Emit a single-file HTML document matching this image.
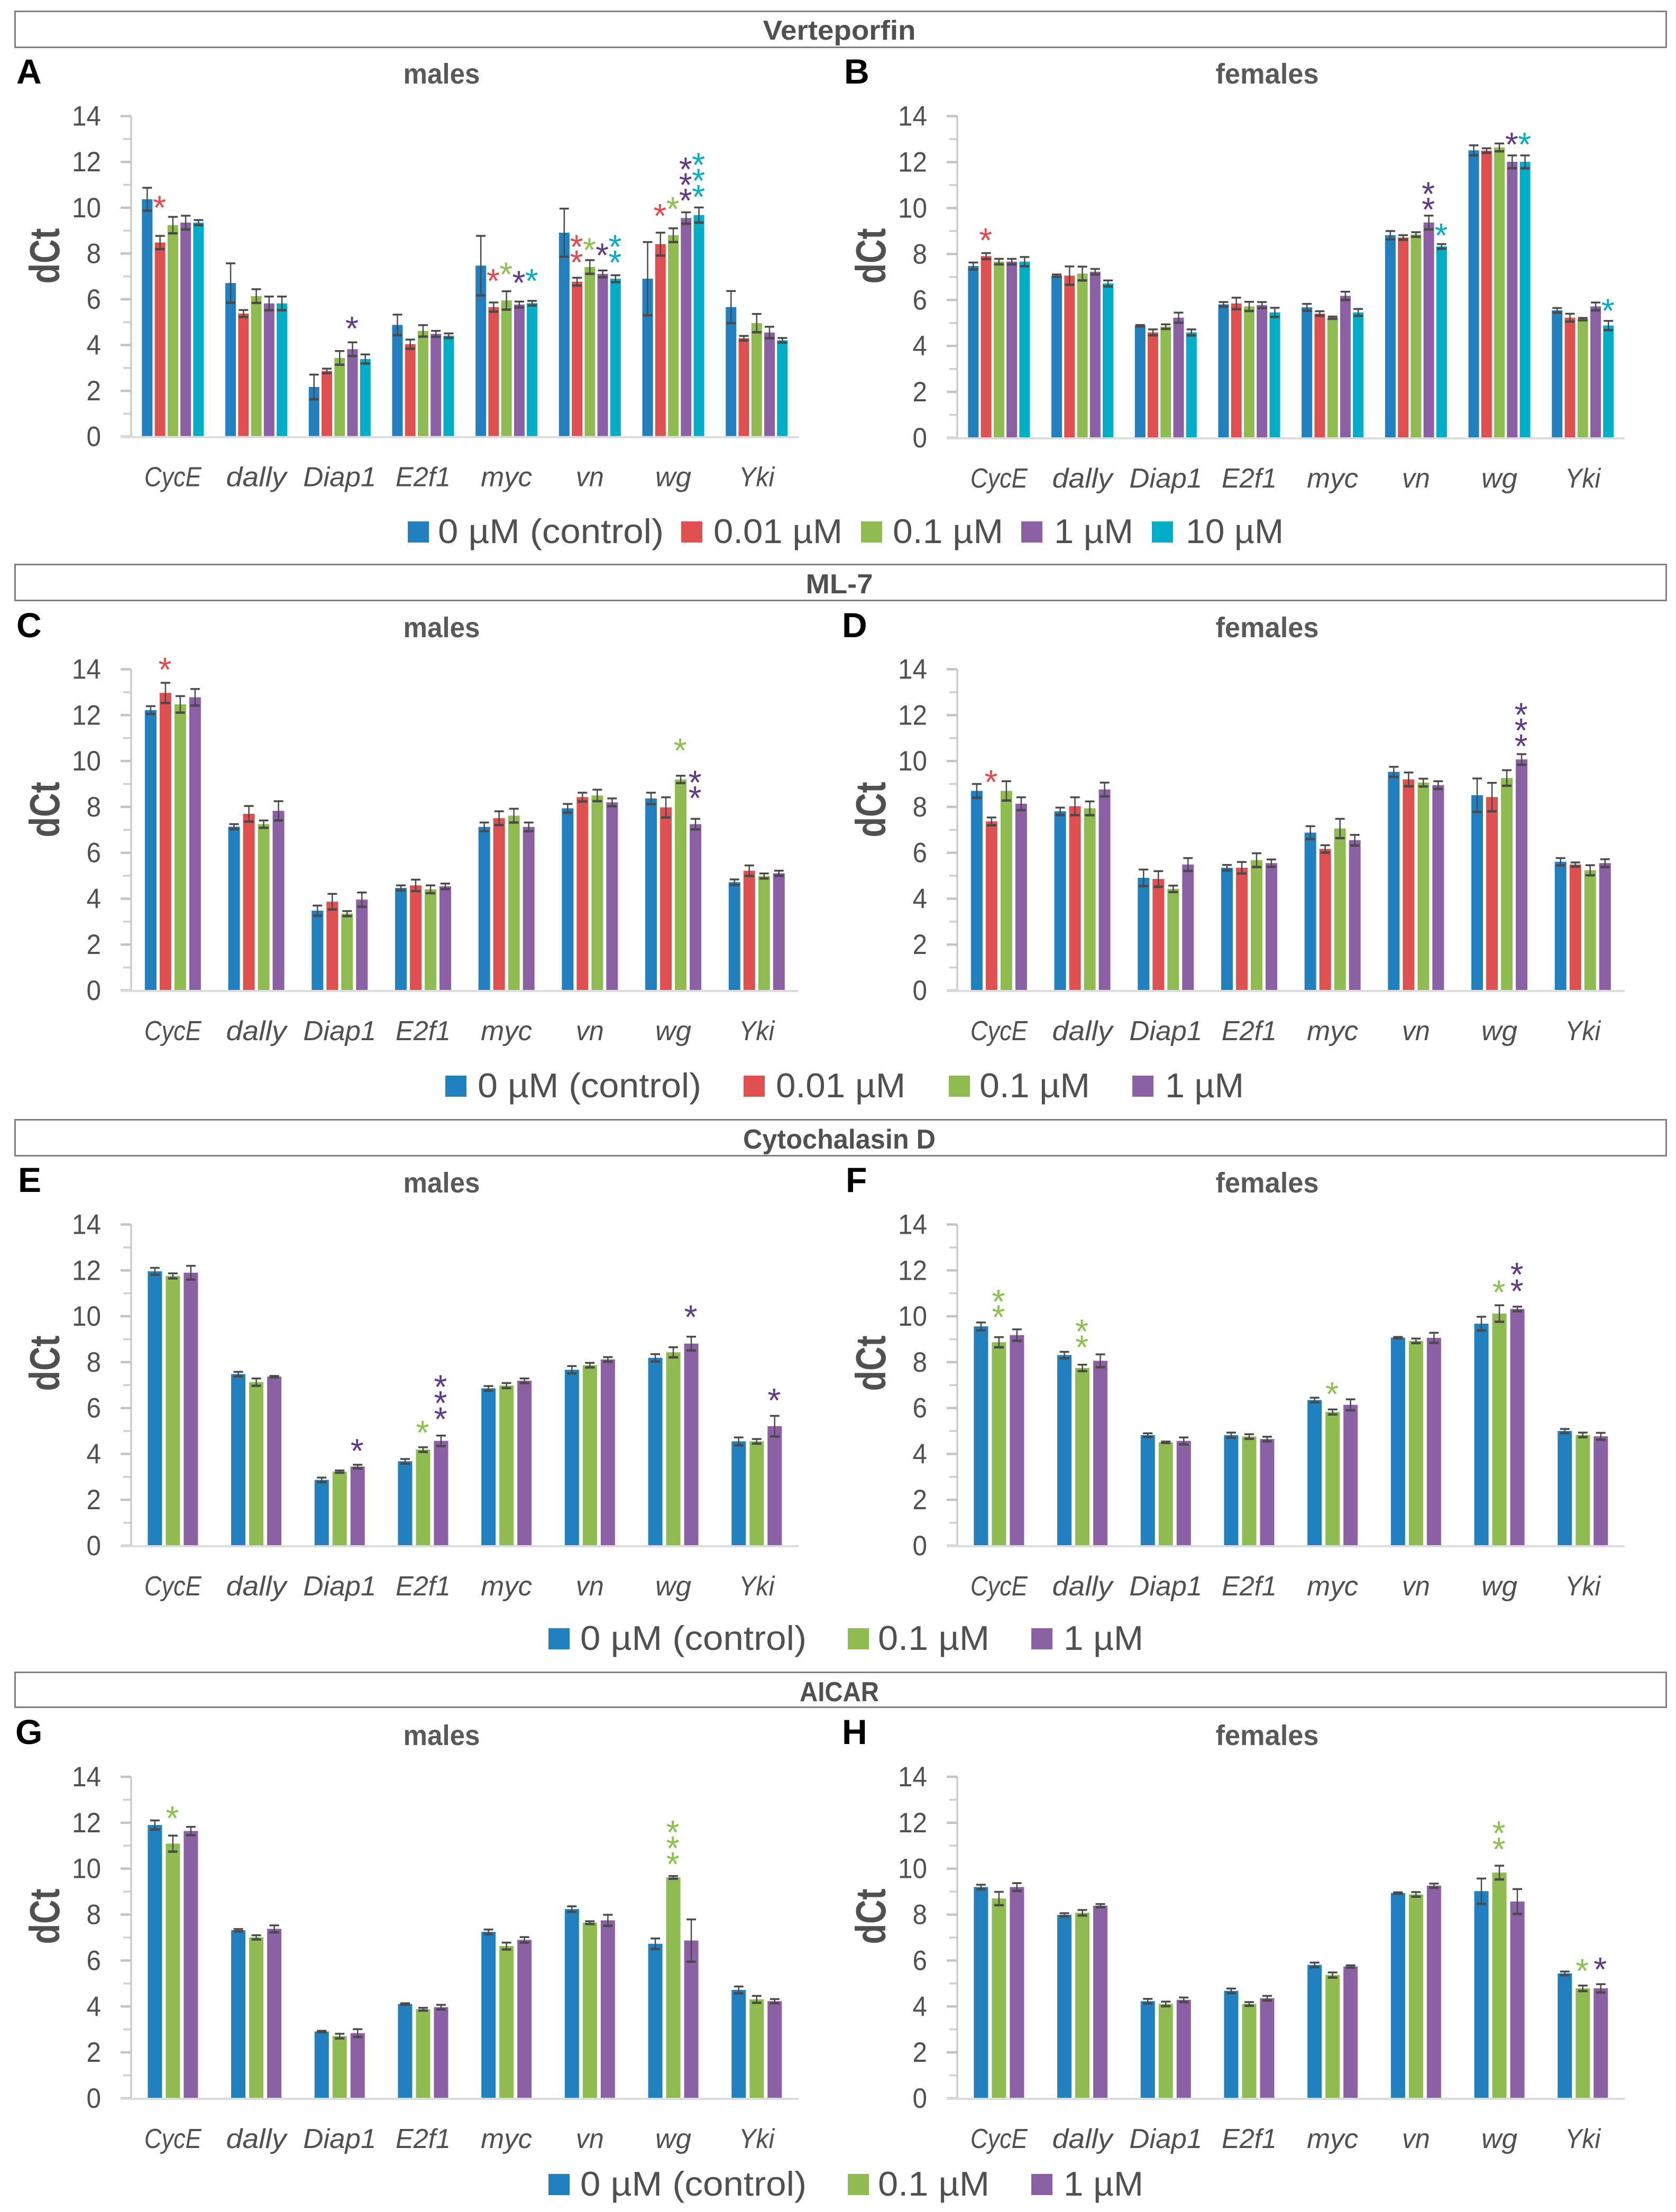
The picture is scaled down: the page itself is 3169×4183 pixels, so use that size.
<!DOCTYPE html>
<html lang="en">
<head>
<meta charset="utf-8">
<title>dCt gene expression by treatment</title>
<style>
html,body{margin:0;padding:0;background:#fff;}
svg{display:block;}
text{font-family:"Liberation Sans",sans-serif;}
</style>
</head>
<body>
<svg id="figure" xmlns="http://www.w3.org/2000/svg" width="3169" height="4183" viewBox="0 0 3169 4183"></svg>
<script>
// ---------- chart data ----------
const categories = ['CycE','dally','Diap1','E2f1','myc','vn','wg','Yki'];
const tickLabels = [0,2,4,6,8,10,12,14];
const minorTicks = [1,3,5,7,9,11,13];

const seriesFive = ['0 µM (control)','0.01 µM','0.1 µM','1 µM','10 µM'];
const seriesFour = ['0 µM (control)','0.01 µM','0.1 µM','1 µM'];
const seriesThree = ['0 µM (control)','0.1 µM','1 µM'];

const valuesA = [
 [10.37,6.71,2.17,4.88,7.47,8.91,6.90,5.66],
 [8.48,5.38,2.87,4.04,5.66,6.77,8.41,4.30],
 [9.24,6.14,3.44,4.62,5.95,7.41,8.80,4.96],
 [9.35,5.82,3.82,4.49,5.77,7.11,9.55,4.55],
 [9.35,5.82,3.39,4.41,5.83,6.90,9.68,4.21]];
const errorsA = [
 [0.50,0.86,0.54,0.45,1.30,1.05,1.60,0.70],
 [0.29,0.15,0.10,0.20,0.20,0.17,0.50,0.10],
 [0.36,0.30,0.30,0.25,0.40,0.30,0.30,0.40],
 [0.30,0.30,0.30,0.13,0.13,0.15,0.25,0.25],
 [0.11,0.30,0.20,0.10,0.10,0.15,0.33,0.10]];
const starsA = [[0,1,10.28],[2,3,5.0],[4,1,7.08],[4,2,7.37],[4,3,7.0],[4,4,7.08],
 [5,1,8.57],[5,1,7.89],[5,2,8.44],[5,3,8.2],[5,4,8.57],[5,4,7.89],
 [6,1,9.93],[6,2,10.23],[6,3,10.6],[6,3,11.28],[6,3,11.96],[6,4,10.76],[6,4,11.46],[6,4,12.16]];

const valuesB = [
 [7.48,7.06,4.88,5.81,5.68,8.82,12.51,5.55],
 [7.91,7.06,4.59,5.85,5.41,8.72,12.50,5.23],
 [7.67,7.15,4.84,5.72,5.23,8.85,12.64,5.17],
 [7.67,7.23,5.23,5.78,6.18,9.37,12.01,5.72],
 [7.67,6.72,4.59,5.46,5.46,8.33,12.01,4.89]];
const errorsB = [
 [0.15,0.05,0.03,0.10,0.15,0.18,0.22,0.10],
 [0.13,0.40,0.13,0.25,0.10,0.10,0.10,0.17],
 [0.12,0.30,0.10,0.20,0.05,0.10,0.17,0.05],
 [0.12,0.12,0.22,0.13,0.18,0.30,0.28,0.17],
 [0.20,0.13,0.13,0.20,0.15,0.10,0.28,0.20]];
const starsB = [[0,1,8.88],[5,3,10.9],[5,3,10.22],[5,4,9.09],[6,3,13.05],[6,4,13.05],[7,4,5.81]];

const valuesC = [
 [12.22,7.14,3.48,4.47,7.13,7.94,8.37,4.72],
 [12.97,7.70,3.87,4.58,7.51,8.43,7.98,5.22],
 [12.47,7.25,3.35,4.41,7.62,8.50,9.20,4.99],
 [12.78,7.83,3.96,4.54,7.13,8.20,7.25,5.11]];
const errorsC = [
 [0.17,0.11,0.22,0.11,0.19,0.19,0.25,0.12],
 [0.44,0.34,0.34,0.25,0.30,0.19,0.44,0.23],
 [0.36,0.16,0.11,0.17,0.30,0.25,0.16,0.11],
 [0.36,0.42,0.31,0.12,0.19,0.17,0.23,0.11]];
const starsC = [[0,1,14.27],[6,2,10.74],[6,3,9.35],[6,3,8.67]];

const valuesD = [
 [8.70,7.81,4.91,5.35,6.88,9.53,8.51,5.61],
 [7.37,8.03,4.86,5.35,6.17,9.20,8.43,5.49],
 [8.70,7.94,4.43,5.68,7.06,9.06,9.26,5.24],
 [8.14,8.76,5.49,5.55,6.55,8.95,10.07,5.55]];
const errorsD = [
 [0.30,0.16,0.36,0.12,0.28,0.22,0.73,0.16],
 [0.17,0.39,0.34,0.25,0.16,0.30,0.62,0.09],
 [0.42,0.30,0.14,0.30,0.42,0.17,0.34,0.22],
 [0.28,0.30,0.28,0.16,0.23,0.17,0.23,0.17]];
const starsD = [[0,1,9.37],[6,3,10.93],[6,3,11.62],[6,3,12.3]];

const valuesE = [
 [11.96,7.48,2.87,3.68,6.86,7.67,8.19,4.55],
 [11.76,7.13,3.23,4.19,6.98,7.87,8.43,4.55],
 [11.90,7.37,3.45,4.57,7.19,8.12,8.81,5.21]];
const errorsE = [
 [0.15,0.10,0.10,0.10,0.10,0.16,0.16,0.17],
 [0.11,0.16,0.05,0.10,0.11,0.10,0.22,0.10],
 [0.30,0.03,0.08,0.23,0.10,0.10,0.30,0.45]];
const starsE = [[2,2,4.41],[3,1,5.21],[3,2,5.8],[3,2,6.5],[3,2,7.2],[6,2,10.24],[7,2,6.61]];

const valuesF = [
 [9.56,8.31,4.82,4.82,6.35,9.07,9.68,5.00],
 [8.87,7.75,4.51,4.76,5.83,8.93,10.12,4.83],
 [9.18,8.06,4.57,4.65,6.14,9.06,10.32,4.77]];
const errorsF = [
 [0.17,0.14,0.08,0.11,0.10,0.03,0.30,0.09],
 [0.22,0.14,0.03,0.10,0.11,0.10,0.36,0.10],
 [0.25,0.28,0.15,0.10,0.24,0.22,0.10,0.15]];
const starsF = [[0,1,10.93],[0,1,10.24],[1,1,9.62],[1,1,8.93],[4,1,6.89],[6,1,11.33],[6,2,12.1],[6,2,11.38]];

const valuesG = [
 [11.90,7.32,2.91,4.11,7.25,8.24,6.73,4.72],
 [11.09,7.01,2.71,3.88,6.63,7.65,9.62,4.31],
 [11.64,7.38,2.84,3.97,6.90,7.75,6.87,4.23]];
const errorsG = [
 [0.20,0.05,0.03,0.03,0.10,0.12,0.23,0.15],
 [0.35,0.09,0.10,0.06,0.15,0.06,0.06,0.15],
 [0.18,0.15,0.17,0.10,0.12,0.24,0.92,0.09]];
const starsG = [[0,1,12.48],[6,1,11.86],[6,1,11.17],[6,1,10.48]];

const valuesH = [
 [9.20,7.99,4.23,4.68,5.81,8.94,9.02,5.44],
 [8.70,8.08,4.11,4.11,5.37,8.88,9.83,4.79],
 [9.20,8.39,4.29,4.36,5.74,9.26,8.57,4.79]];
const errorsH = [
 [0.10,0.07,0.10,0.10,0.10,0.03,0.55,0.08],
 [0.29,0.12,0.10,0.08,0.11,0.10,0.30,0.12],
 [0.17,0.07,0.10,0.10,0.05,0.09,0.54,0.18]];
const starsH = [[6,1,11.82],[6,1,11.12],[7,1,5.83],[7,2,5.89]];

// ---------- layout and style (not data) ----------
const colorFor = {'0 µM (control)':'#2080c0','0.01 µM':'#e05050','0.1 µM':'#8fbc50','1 µM':'#8c60a4','10 µM':'#00aec8'};
const starColorFor = {'0.01 µM':'#e8474c','0.1 µM':'#8cc04f','1 µM':'#5e3a87','10 µM':'#00aec7'};
const labelWidths = [108,114,138,104,97,53,68,67];
const barSizing = {5:{w:20,step:24.25},4:{w:22,step:28},3:{w:27,step:34}};
const catW = 157.7;
const NS = 'http://www.w3.org/2000/svg';
const svg = document.getElementById('figure');

const frames = [
 {title:'Verteporfin', top:20, bottom:91, base:75, w:289},
 {title:'ML-7', top:1066, bottom:1137, base:1122, w:127},
 {title:'Cytochalasin D', top:2116, bottom:2187, base:2172, w:364},
 {title:'AICAR', top:3161, bottom:3230, base:3217, w:150}
];

const legends = [
 {series:seriesFive, cy:1006, sx:[771,1288,1628,1931,2178], tx:[828,1349,1688,1993,2242], tw:[427,244,209,150,185]},
 {series:seriesFour, cy:2054, sx:[842,1406,1794,2141], tx:[903,1467,1852,2203], tw:[423,245,209,149]},
 {series:seriesThree, cy:3099, sx:[1037,1603,1950], tx:[1097,1660,2011], tw:[428,211,151]},
 {series:seriesThree, cy:4131, sx:[1037,1603,1950], tx:[1097,1660,2011], tw:[428,211,151]}
];

const panels = [
 {id:'a',letter:'A',title:'males',  x0:248, y0:825.7,y14:219.6,lx:31,  lb:158, tb:158, dy:484, vals:valuesA,errs:errorsA,stars:starsA,series:seriesFive},
 {id:'b',letter:'B',title:'females',x0:1810,y0:828,  y14:219.6,lx:1596,lb:158, tb:158, dy:484, vals:valuesB,errs:errorsB,stars:starsB,series:seriesFive},
 {id:'c',letter:'C',title:'males',  x0:248, y0:1873, y14:1265.6,lx:31, lb:1205,tb:1205,dy:1531,vals:valuesC,errs:errorsC,stars:starsC,series:seriesFour},
 {id:'d',letter:'D',title:'females',x0:1810,y0:1873, y14:1265.6,lx:1592,lb:1205,tb:1205,dy:1531,vals:valuesD,errs:errorsD,stars:starsD,series:seriesFour},
 {id:'e',letter:'E',title:'males',  x0:248, y0:2923, y14:2315.6,lx:34, lb:2254,tb:2255,dy:2578,vals:valuesE,errs:errorsE,stars:starsE,series:seriesThree},
 {id:'f',letter:'F',title:'females',x0:1810,y0:2923, y14:2315.6,lx:1599,lb:2254,tb:2255,dy:2578,vals:valuesF,errs:errorsF,stars:starsF,series:seriesThree},
 {id:'g',letter:'G',title:'males',  x0:248, y0:3968, y14:3360,  lx:29, lb:3298,tb:3300,dy:3624,vals:valuesG,errs:errorsG,stars:starsG,series:seriesThree},
 {id:'h',letter:'H',title:'females',x0:1810,y0:3968, y14:3360,  lx:1592,lb:3298,tb:3300,dy:3624,vals:valuesH,errs:errorsH,stars:starsH,series:seriesThree}
];

function make(tag, parent, attrs, content){
  const node = document.createElementNS(NS, tag);
  for (const k in attrs) node.setAttribute(k, attrs[k]);
  if (content !== undefined) node.textContent = content;
  parent.appendChild(node);
  return node;
}

// section header frames
frames.forEach(function(f){
  const box = make('rect', svg, {x:28.5,y:f.top+1.5,width:3122,height:f.bottom-f.top-3,fill:'#fff',stroke:'#808080','stroke-width':3});
  
  
  const label = make('text', svg, {x:1587,y:f.base,'text-anchor':'middle','font-size':52,'font-weight':'bold',fill:'#505050',textLength:f.w,lengthAdjust:'spacingAndGlyphs'}, f.title);
  
  
});

// legends
legends.forEach(function(l){
  l.series.forEach(function(name, i){
    const swatch = make('rect', svg, {x:l.sx[i],y:l.cy-20,width:40,height:40,fill:colorFor[name]});
    
    
    const label = make('text', svg, {x:l.tx[i],y:l.cy+21,'font-size':65,fill:'#505050',textLength:l.tw[i],lengthAdjust:'spacingAndGlyphs'}, name);
    
    
  });
});

// panels
panels.forEach(function(p){
  const g = make('g', svg, {});
  
  
  const yScale = function(v){ return p.y0 - v * (p.y0 - p.y14) / 14; };
  const groupCenter = function(c){ return p.x0 + (c + 0.5) * catW; };
  const size = barSizing[p.series.length];
  const barCenter = function(c, s){ return groupCenter(c) + (s - (p.series.length - 1) / 2) * size.step; };

  const letter = make('text', g, {x:p.lx,y:p.lb,'font-size':66,'font-weight':'bold',fill:'#000'}, p.letter);
  
  

  const isMale = p.title === 'males';
  const title = make('text', g, {x:p.x0 + (isMale ? 587 : 586),y:p.tb,'text-anchor':'middle','font-size':54,'font-weight':'bold',fill:'#595959',textLength:isMale ? 145 : 195,lengthAdjust:'spacingAndGlyphs'}, p.title);
  
  

  const yTitle = make('text', g, {transform:'translate(' + (p.x0 - 136) + ',' + p.dy + ') rotate(-90)','text-anchor':'middle','font-size':80,'font-weight':'bold',fill:'#505050',textLength:105,lengthAdjust:'spacingAndGlyphs'}, 'dCt');
  
  

  // minor ticks
  minorTicks.forEach(function(v){
    const t = make('rect', g, {x:p.x0-15,y:yScale(v)-1.75,width:15,height:3.5,fill:'#cfcfcf'});
    
    
  });
  // major ticks + labels
  tickLabels.forEach(function(v){
    const t = make('rect', g, {x:p.x0-20,y:yScale(v)-2.25,width:20,height:4.5,fill:'#c4c4c4'});
    
    
    const text = String(v);
    const label = make('text', g, {x:p.x0-57,y:yScale(v)+18,'text-anchor':'end','font-size':53,fill:'#505050',textLength:text.length*27.5,lengthAdjust:'spacingAndGlyphs'}, text);
    
    
  });

  // bars
  p.vals.forEach(function(row, s){
    const name = p.series[s];
    row.forEach(function(v, c){
      const bar = make('rect', g, {x:barCenter(c,s)-size.w/2,y:yScale(v),width:size.w,height:yScale(0)-1-yScale(v),fill:colorFor[name]});
      
      
    });
  });

  // axes on top of the bars
  const yAxis = make('rect', g, {x:p.x0-1.5,y:p.y14,width:3,height:p.y0-p.y14,fill:'#c4c4c4'});
  
  
  const xAxis = make('rect', g, {x:p.x0-20,y:p.y0-1,width:20+8*catW,height:4,fill:'#dcdcdc'});
  
  

  // error bars
  p.errs.forEach(function(row, s){
    row.forEach(function(e, c){
      const cx = barCenter(c, s);
      const v = p.vals[s][c];
      const hi = yScale(v + e);
      const lo = yScale(v - e);
      const stem = make('rect', g, {x:cx-1.25,y:hi,width:2.5,height:lo-hi,fill:'#4a4a4a'});
      
      
      const capTop = make('rect', g, {x:cx-9,y:hi-1.75,width:18,height:3.5,fill:'#4a4a4a'});
      
      
      const capLow = make('rect', g, {x:cx-9,y:lo-2.25,width:18,height:4.5,fill:'#4a4a4a'});
      
      
    });
  });

  // significance stars
  p.stars.forEach(function(st){
    const name = p.series[st[1]];
    const star = make('text', g, {x:barCenter(st[0],st[1])-1,y:yScale(st[2])+34,'text-anchor':'middle','font-size':64,fill:starColorFor[name]}, '*');
    
    
  });

  // category labels
  categories.forEach(function(cat, c){
    const label = make('text', g, {x:groupCenter(c),y:p.y0+94,'text-anchor':'middle','font-size':52,'font-style':'italic',fill:'#505050',textLength:labelWidths[c],lengthAdjust:'spacingAndGlyphs'}, cat);
    
    
  });
});
</script>
</body>
</html>
